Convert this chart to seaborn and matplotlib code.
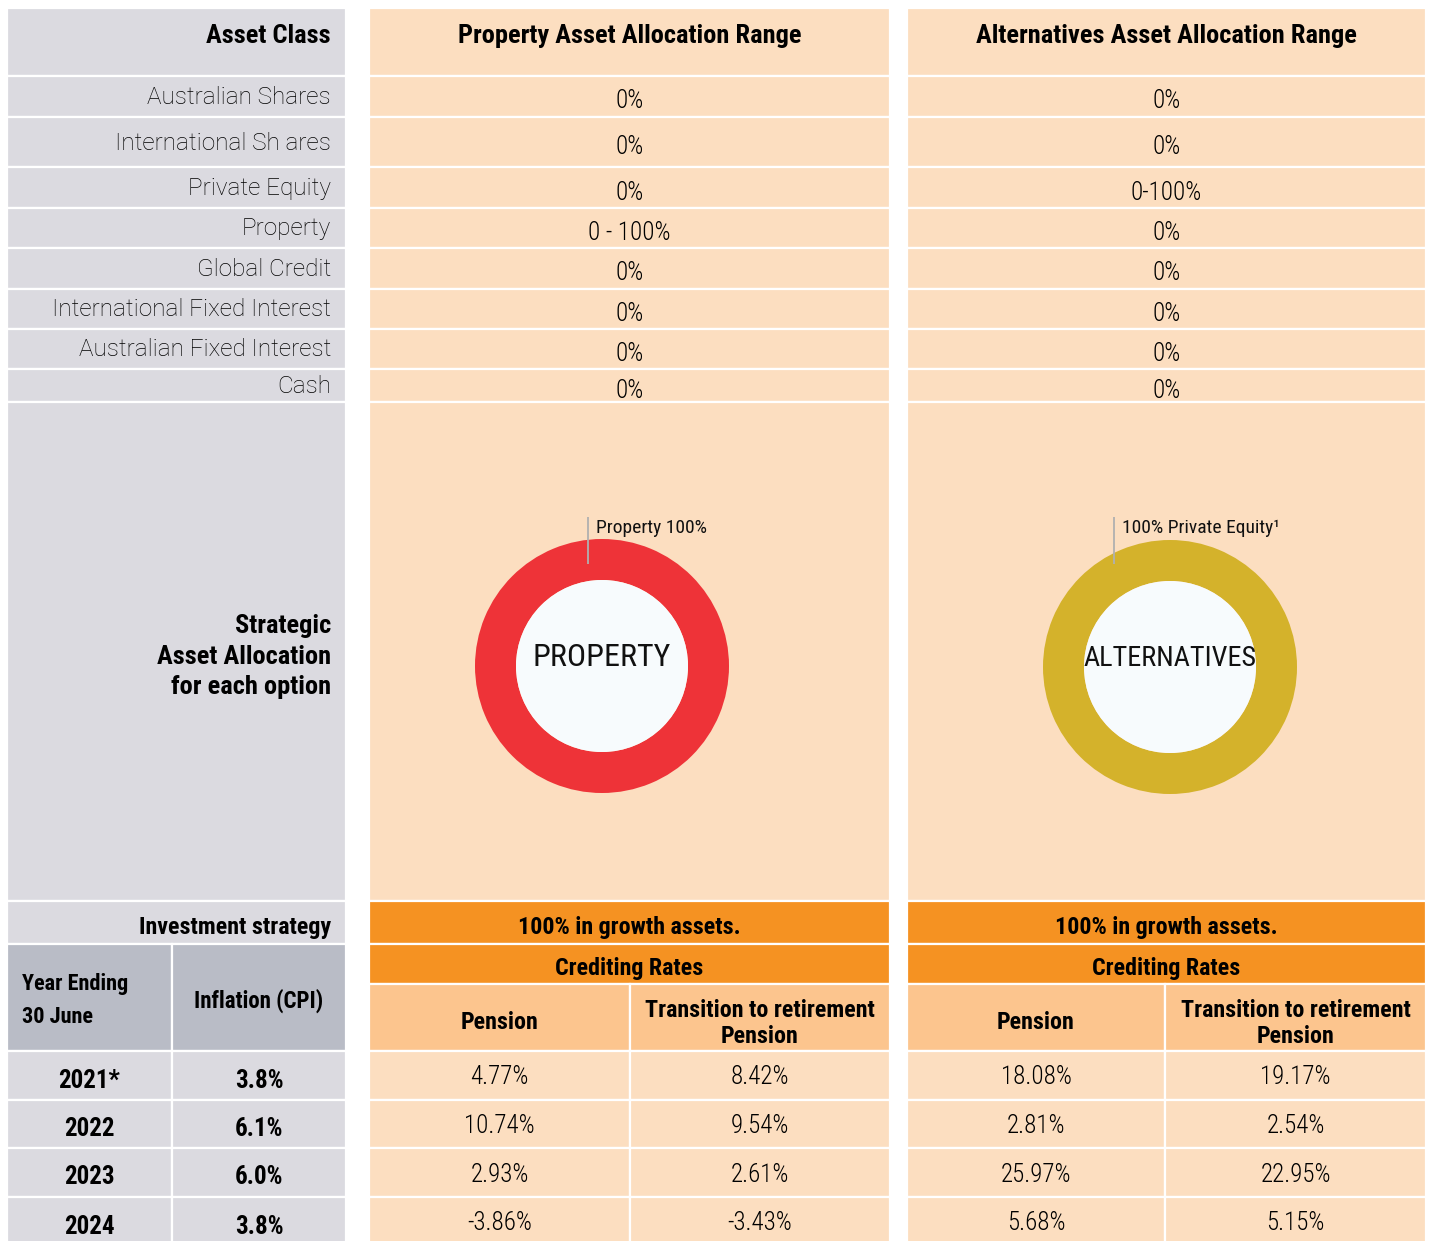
import matplotlib
matplotlib.use("Agg")
import matplotlib.pyplot as plt
from matplotlib.patches import Rectangle, Circle
import seaborn as sns

# ---- data -------------------------------------------------------------
asset_classes = ["Australian Shares", "International Sh ares", "Private Equity", "Property",
                 "Global Credit", "International Fixed Interest", "Australian Fixed Interest", "Cash"]
property_range = ["0%", "0%", "0%", "0 - 100%", "0%", "0%", "0%", "0%"]
alternatives_range = ["0%", "0%", "0-100%", "0%", "0%", "0%", "0%", "0%"]

option_headers = ["Property Asset Allocation Range", "Alternatives Asset Allocation Range"]
option_names = ["PROPERTY", "ALTERNATIVES"]
option_labels = ["Property 100%", "100% Private Equity\u00b9"]
option_share = [100, 100]
option_strategy = ["100% in growth assets.", "100% in growth assets."]

years = ["2021*", "2022", "2023", "2024"]
inflation = ["3.8%", "6.1%", "6.0%", "3.8%"]
property_pension = ["4.77%", "10.74%", "2.93%", "-3.86%"]
property_ttr = ["8.42%", "9.54%", "2.61%", "-3.43%"]
alternatives_pension = ["18.08%", "2.81%", "25.97%", "5.68%"]
alternatives_ttr = ["19.17%", "2.54%", "22.95%", "5.15%"]

# ---- styling / layout (pixels) ---------------------------------------
GRAY = "#dbdae0"
DARK_GRAY = "#b9bcc6"
PEACH = "#fcdec0"
ORANGE = "#f59222"
MID_ORANGE = "#fcc58e"
HOLE = "#f7fbfd"
DONUT_COLORS = ["#ee3338", "#d4b22b"]

CONDENSED = ["Roboto Condensed", "DejaVu Sans"]
LIGHT = dict(family=["Roboto", "DejaVu Sans"], fontweight="light", fontsize=17.5, color="black")
VALUE = dict(family=CONDENSED, fontweight="light", fontsize=18, color="black")
HEAD = dict(family=CONDENSED, fontweight="bold", fontsize=19, color="black")
BOLD = dict(family=CONDENSED, fontweight="bold", fontsize=17.3, color="black")
NUM = dict(family=CONDENSED, fontweight="bold", fontsize=18, color="black")
NAME_SIZES = [23, 20.3]

W, H = 1431, 1241
LEFT = (7, 346)
OPTS = [(369, 890), (907, 1426)]
LEFT_SPLIT = 172
OPT_SPLITS = [630, 1165]
HEADER = (8, 76)
ROW_EDGES = [76, 117, 167, 208, 248, 289, 329, 369, 402]
DONUT_ROW = (402, 901)
STRAT_ROW = (901, 944)
CREDIT_ROW = (944, 984)
SUBHEAD_ROW = (984, 1051)
DATA_EDGES = [1051, 1100, 1148, 1197, 1250]
DONUT_CENTERS = [(602, 666), (1170, 667)]
DONUT_R, DONUT_W = 127, 41
LEADER_X = [588, 1114]
LEADER_Y = (517, 564)

sns.set_theme(style="white")
plt.rcParams["font.family"] = ["Roboto", "DejaVu Sans"]

fig = plt.figure(figsize=(W / 100, H / 100), dpi=100)
ax = fig.add_axes([0, 0, 1, 1])


def cell(x0, x1, y0, y1, color):
    ax.add_patch(Rectangle((x0, y0), x1 - x0, y1 - y0, facecolor=color,
                           edgecolor="white", linewidth=1.6, zorder=1))


def mid(a, b):
    return (a + b) / 2


# left column
cell(*LEFT, *HEADER, GRAY)
ax.text(331, 36, "Asset Class", ha="right", va="center", **HEAD)
for i, name in enumerate(asset_classes):
    y0, y1 = ROW_EDGES[i], ROW_EDGES[i + 1]
    cell(*LEFT, y0, y1, GRAY)
    ax.text(331, mid(y0, y1) + 1, name, ha="right", va="center", **LIGHT)
cell(*LEFT, *DONUT_ROW, GRAY)
ax.text(331, mid(*DONUT_ROW) + 5, "Strategic\nAsset Allocation\nfor each option",
        ha="right", va="center", linespacing=1.35, multialignment="right", **HEAD)
cell(*LEFT, *STRAT_ROW, GRAY)
ax.text(331, mid(*STRAT_ROW) + 5, "Investment strategy", ha="right", va="center", **BOLD)
cell(LEFT[0], LEFT_SPLIT, CREDIT_ROW[0], SUBHEAD_ROW[1], DARK_GRAY)
cell(LEFT_SPLIT, LEFT[1], CREDIT_ROW[0], SUBHEAD_ROW[1], DARK_GRAY)
ax.text(22, mid(CREDIT_ROW[0], SUBHEAD_ROW[1]) + 3, "Year Ending\n30 June", ha="left", va="center",
        linespacing=1.6, **{**BOLD, "fontsize": 16})
ax.text(mid(LEFT_SPLIT, LEFT[1]), mid(CREDIT_ROW[0], SUBHEAD_ROW[1]) + 3, "Inflation (CPI)",
        ha="center", va="center", **{**BOLD, "fontsize": 16.5})
for i, (yr, cpi) in enumerate(zip(years, inflation)):
    y0, y1 = DATA_EDGES[i], DATA_EDGES[i + 1]
    cell(LEFT[0], LEFT_SPLIT, y0, y1, GRAY)
    cell(LEFT_SPLIT, LEFT[1], y0, y1, GRAY)
    yc = mid(y0, min(y1, 1246)) + 5
    ax.text(mid(LEFT[0], LEFT_SPLIT), yc, yr, ha="center", va="center", **NUM)
    ax.text(mid(LEFT_SPLIT, LEFT[1]), yc, cpi, ha="center", va="center", **NUM)

# option columns
ranges = [property_range, alternatives_range]
pensions = [property_pension, alternatives_pension]
ttrs = [property_ttr, alternatives_ttr]
for k, (x0, x1) in enumerate(OPTS):
    xc = mid(x0, x1)
    sp = OPT_SPLITS[k]
    cell(x0, x1, *HEADER, PEACH)
    ax.text(xc, 36, option_headers[k], ha="center", va="center", **HEAD)
    for i, val in enumerate(ranges[k]):
        y0, y1 = ROW_EDGES[i], ROW_EDGES[i + 1]
        cell(x0, x1, y0, y1, PEACH)
        ax.text(xc, mid(y0, y1) + 5, val, ha="center", va="center", **VALUE)
    cell(x0, x1, *DONUT_ROW, PEACH)

    # donut
    cx, cy = DONUT_CENTERS[k]
    ax.pie([option_share[k]], colors=[DONUT_COLORS[k]], center=(cx, cy), radius=DONUT_R,
           startangle=90, counterclock=False,
           wedgeprops=dict(width=DONUT_W, edgecolor="none"))
    ax.add_patch(Circle((cx, cy), DONUT_R - DONUT_W, facecolor=HOLE, edgecolor="none", zorder=3))
    ax.text(cx, cy - 8, option_names[k], ha="center", va="center", family=CONDENSED,
            fontsize=NAME_SIZES[k], color="#111111", zorder=4)
    ax.vlines(LEADER_X[k], *LEADER_Y, color="#b0b0b0", linewidth=1.3, zorder=4)
    ax.text(LEADER_X[k] + 8, LEADER_Y[0] + 11, option_labels[k], ha="left", va="center",
            family=CONDENSED, fontsize=14, color="#111111", zorder=4)

    cell(x0, x1, *STRAT_ROW, ORANGE)
    ax.text(xc, mid(*STRAT_ROW) + 5, option_strategy[k], ha="center", va="center", **BOLD)
    cell(x0, x1, *CREDIT_ROW, ORANGE)
    ax.text(xc, mid(*CREDIT_ROW) + 5, "Crediting Rates", ha="center", va="center", **BOLD)
    cell(x0, sp, *SUBHEAD_ROW, MID_ORANGE)
    cell(sp, x1, *SUBHEAD_ROW, MID_ORANGE)
    ax.text(mid(x0, sp), mid(*SUBHEAD_ROW) + 5, "Pension", ha="center", va="center", **BOLD)
    ax.text(mid(sp, x1), mid(*SUBHEAD_ROW) + 6, "Transition to retirement\nPension",
            ha="center", va="center", linespacing=1.2, **BOLD)
    for i, (p, t) in enumerate(zip(pensions[k], ttrs[k])):
        y0, y1 = DATA_EDGES[i], DATA_EDGES[i + 1]
        cell(x0, sp, y0, y1, PEACH)
        cell(sp, x1, y0, y1, PEACH)
        yc = mid(y0, min(y1, 1246)) + 2
        ax.text(mid(x0, sp), yc, p, ha="center", va="center", **VALUE)
        ax.text(mid(sp, x1), yc, t, ha="center", va="center", **VALUE)

ax.set_xlim(0, W)
ax.set_ylim(H, 0)
ax.set_aspect("auto")
ax.axis("off")

fig.savefig("out.png", dpi=100, facecolor="white")
